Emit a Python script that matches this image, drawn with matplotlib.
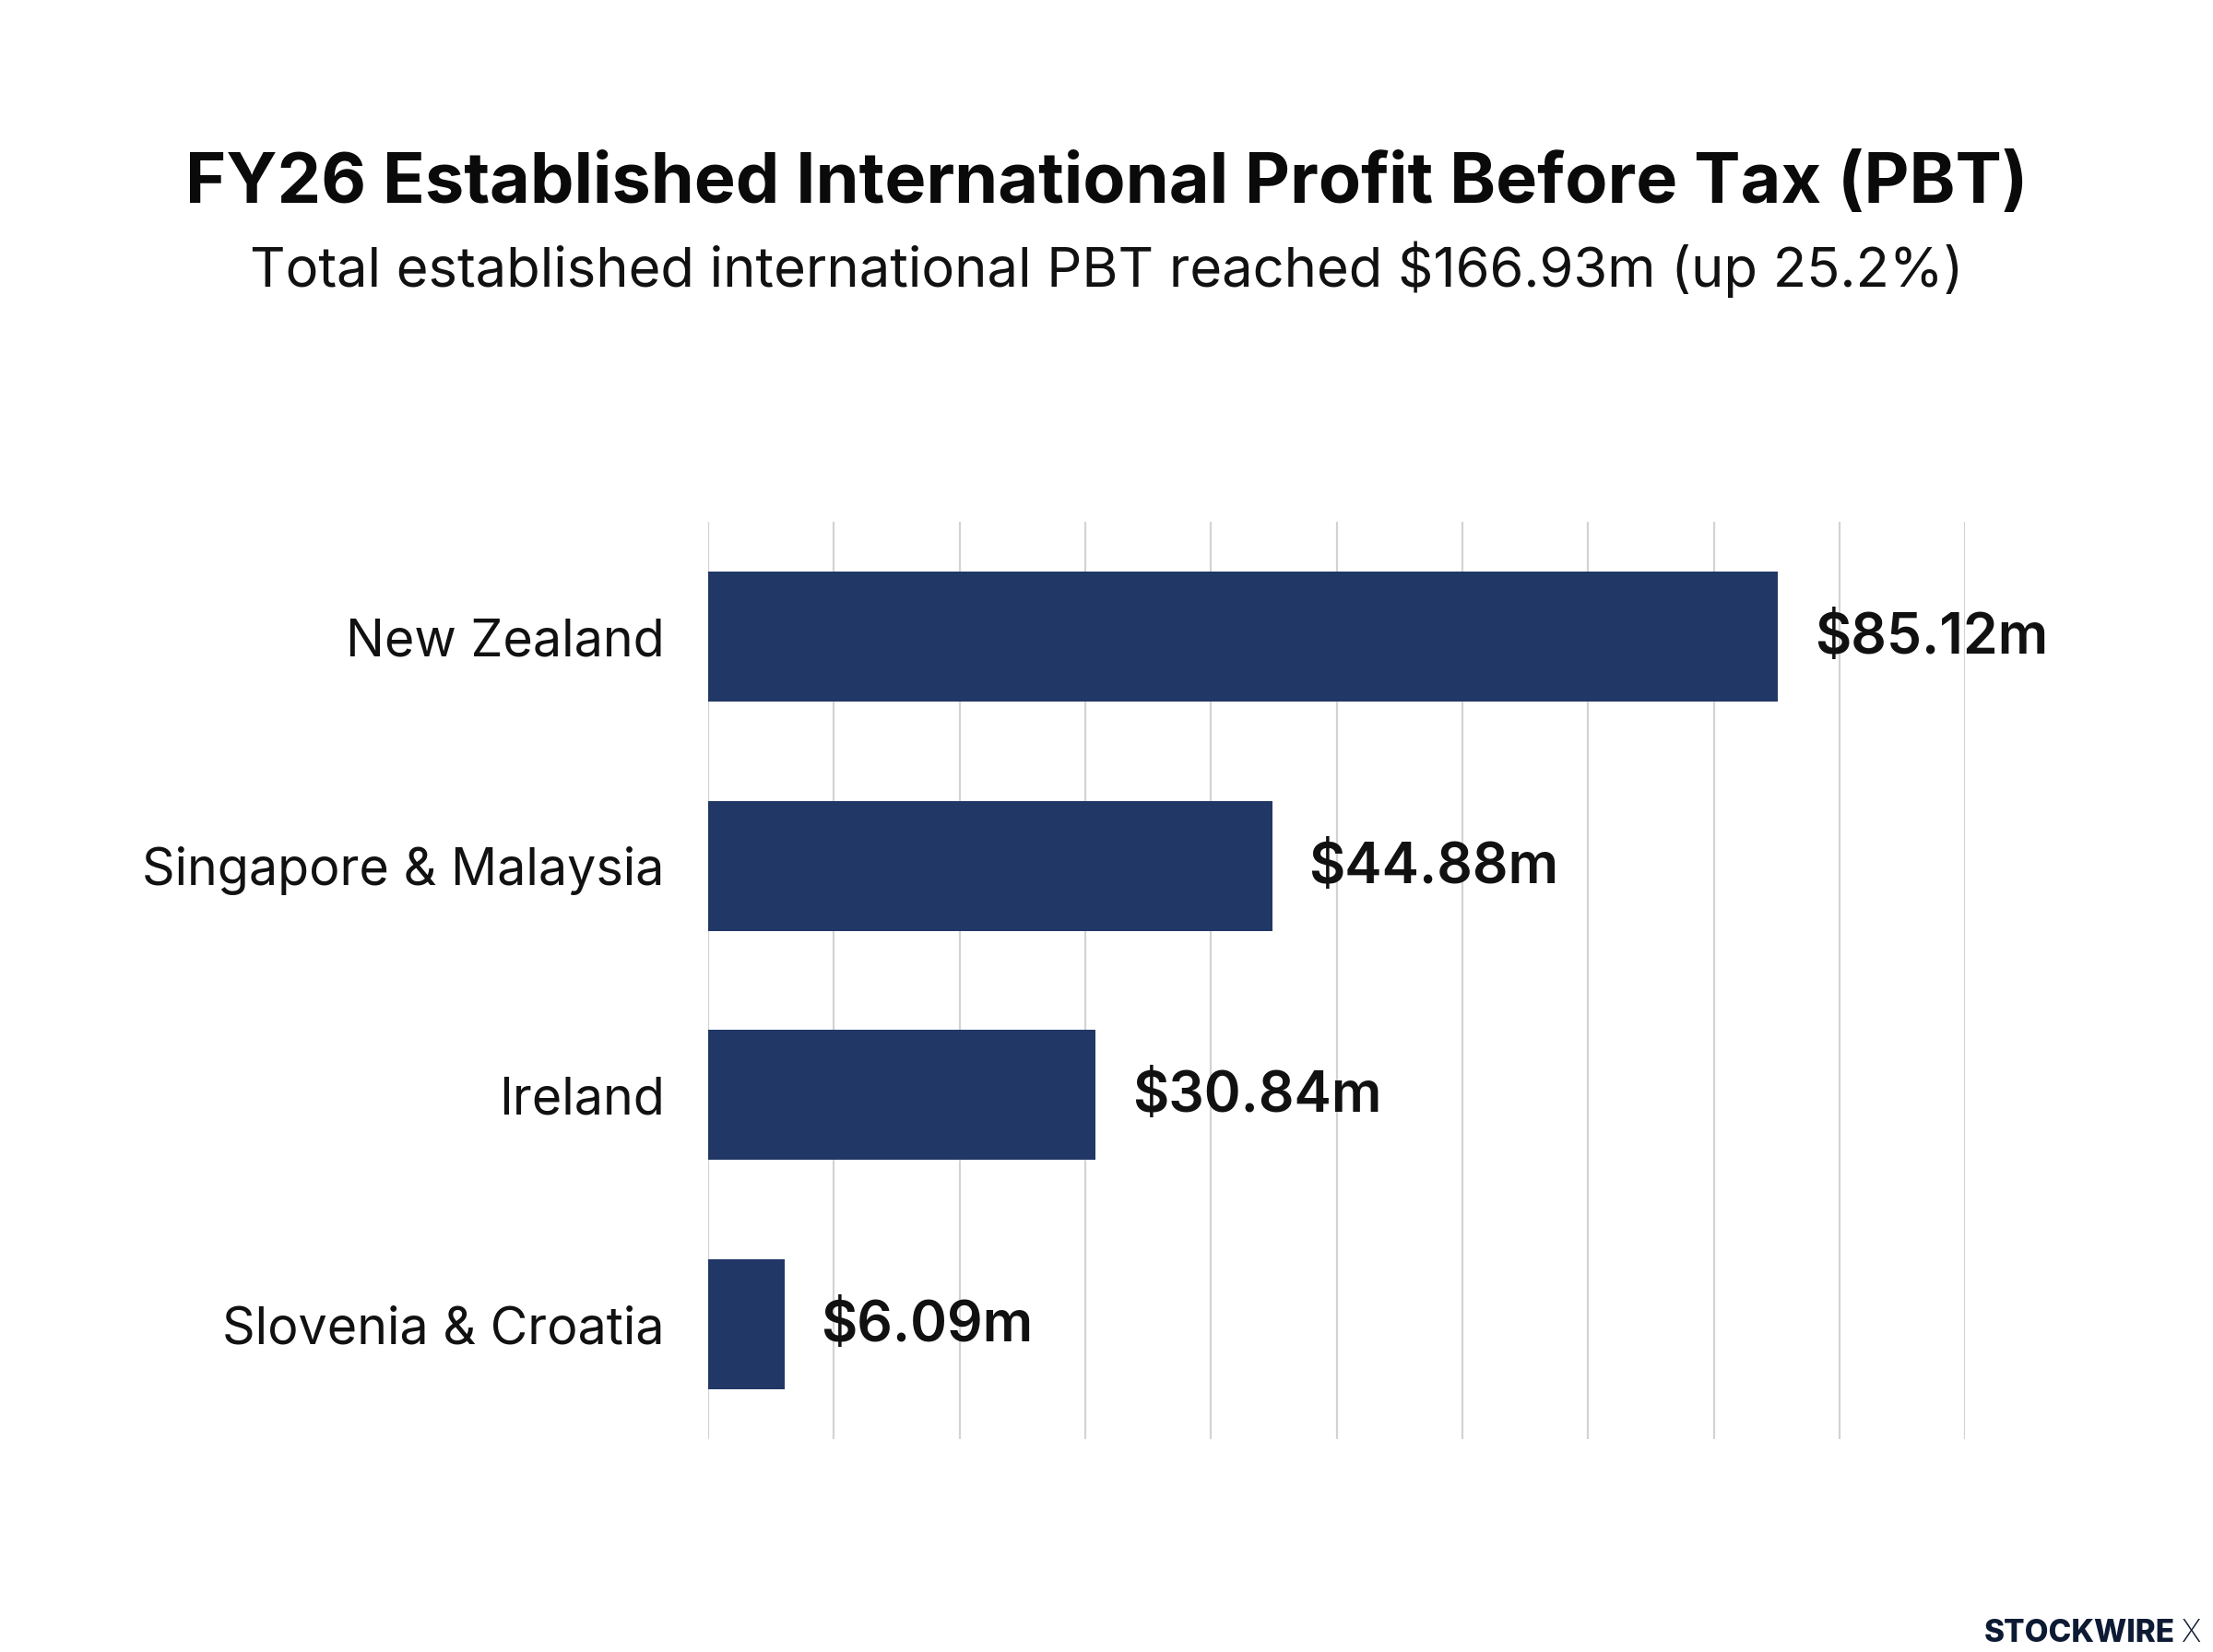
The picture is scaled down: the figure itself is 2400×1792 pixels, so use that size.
import matplotlib
matplotlib.use("Agg")
import matplotlib.pyplot as plt

# data
regions = ["New Zealand", "Singapore & Malaysia", "Ireland", "Slovenia & Croatia"]
pbt = [85.12, 44.88, 30.84, 6.09]
value_labels = ["$85.12m", "$44.88m", "$30.84m", "$6.09m"]
grid_ticks = [0, 10, 20, 30, 40, 50, 60, 70, 80, 90, 100]

title = "FY26 Established International Profit Before Tax (PBT)"
subtitle = "Total established international PBT reached $166.93m (up 25.2%)"

BAR = "#213766"
GRID = "#d3d3d3"

plt.rcParams["font.family"] = ["Inter", "DejaVu Sans"]

fig = plt.figure(figsize=(12, 8.96), dpi=200)
fig.patch.set_facecolor("white")
ax = fig.add_axes([0.32, 0.129, 0.568, 0.555])

y = list(range(len(regions)))
ax.barh(y, pbt, height=0.567, color=BAR, zorder=3)

for yi, v, lab in zip(y, pbt, value_labels):
    ax.text(v + 2.9, yi + 0.01, lab, va="center", ha="left", fontsize=21.8,
            fontweight="semibold", color="#111111", zorder=4)

ax.set_xlim(0, 100)
ax.set_ylim(len(regions) - 0.5, -0.5)
ax.set_xticks(grid_ticks)
ax.set_xticklabels([])
ax.set_yticks(y)
ax.set_yticklabels(regions, fontsize=20, fontweight="normal", color="#111111")
ax.tick_params(axis="both", length=0)
ax.tick_params(axis="y", pad=17)
ax.grid(axis="x", color=GRID, linewidth=0.8, zorder=0)
for s in ax.spines.values():
    s.set_visible(False)

fig.text(0.5, 0.888, title, ha="center", va="center", fontsize=27.2,
         fontweight="bold", color="#0a0a0a")
fig.text(0.5, 0.837, subtitle, ha="center", va="center", fontsize=21.5,
         fontweight="normal", color="#111111")

# brand mark bottom right
fig.text(0.983, 0.006, "STOCKWIRE", ha="right", va="baseline", fontsize=12,
         fontweight="heavy", color="#0d1a33")
fig.text(0.986, 0.006, "X", ha="left", va="baseline", fontsize=12,
         fontweight="light", color="#0d1a33")

fig.savefig("out.png", dpi=200, facecolor="white")
